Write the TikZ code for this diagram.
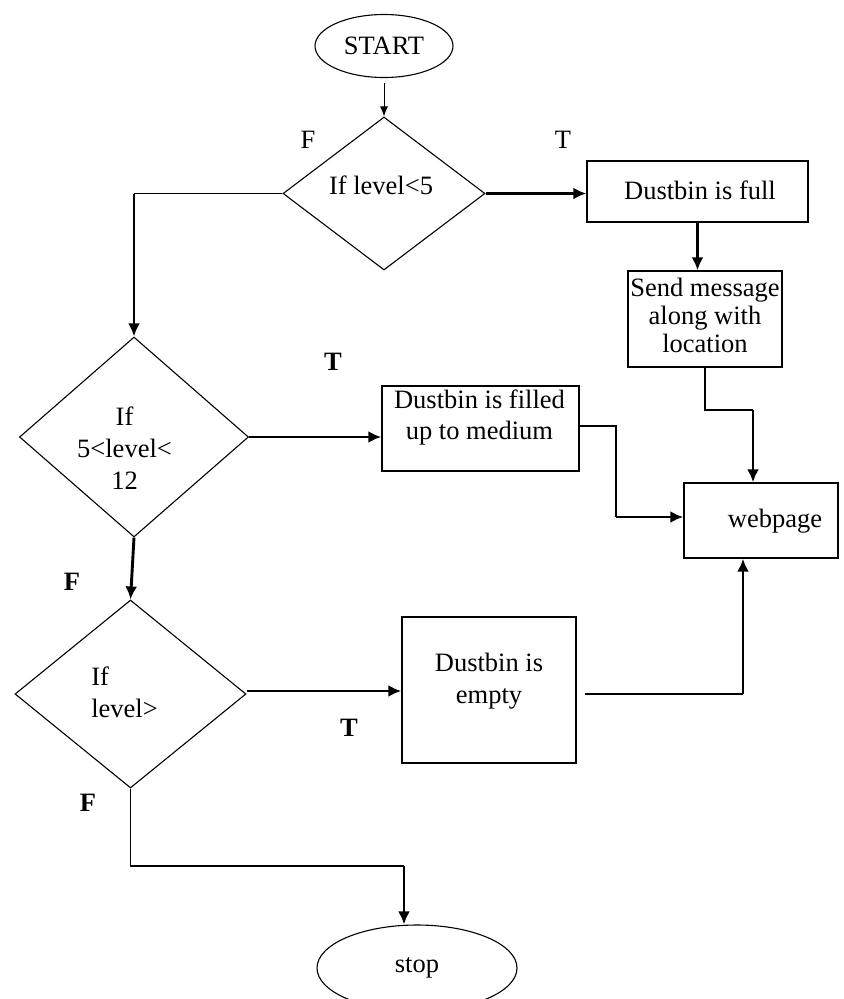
\documentclass[tikz,border=0pt]{standalone}
\usepackage{fontspec}
\setmainfont{Liberation Serif}
\usetikzlibrary{shapes.geometric,arrows.meta}
\tikzset{
  every node/.style={font=\fontsize{26.6}{32}\selectfont},
  txt/.style={align=center, inner sep=0pt},
  box/.style={draw, line width=1.4bp, rectangle, inner sep=0pt},
  dia/.style={draw, line width=1.1bp, diamond, inner sep=0pt},
  term/.style={draw, line width=1.1bp, ellipse, inner sep=0pt},
  conn/.style={line width=1.4bp},
  arr/.style={line width=2.9bp, -{Latex[length=13bp,width=12bp]}},
  smallarr/.style={line width=1bp, -{Latex[length=10bp,width=8bp]}},
  bl/.style={font=\fontsize{26.6}{32}\selectfont\bfseries, inner sep=0pt},
  rl/.style={inner sep=0pt}
}
\begin{document}
\begin{tikzpicture}[x=1bp,y=-1bp]
\useasboundingbox (0,0) rectangle (844,999);

% terminals
\node[term, minimum width=138bp, minimum height=63bp] (start) at (384,46) {START};
\node[term, minimum width=200bp, minimum height=86bp] (stop) at (417,968) {stop};

% decisions
\node[dia, minimum width=202bp, minimum height=153bp,
  label={[txt, xshift=-3bp, yshift=8.5bp]center:If level<5}] (d1) at (384,193.5) {};
\node[dia, minimum width=229bp, minimum height=200bp,
  label={[txt, xshift=-9.5bp, yshift=-11.5bp]center:If\\5<level<\\12}] (d2) at (134,437) {};
\node[dia, minimum width=231bp, minimum height=188bp,
  label={[txt, align=left, xshift=-6bp, yshift=2bp]center:If\\level>}] (d3) at (130.5,694) {};

% process boxes
\node[box, minimum width=221bp, minimum height=61bp,
  label={[txt, xshift=2.5bp, yshift=1.5bp]center:Dustbin is full}] (full) at (697.5,191.5) {};
\node[box, minimum width=154bp, minimum height=96bp,
  label={[txt, font=\fontsize{26.6}{28}\selectfont, yshift=3.5bp]center:Send message\\along with\\location}] (send) at (705,319) {};
\node[box, minimum width=197bp, minimum height=85bp,
  label={[txt, xshift=-1bp, yshift=11bp]center:Dustbin is filled\\up to medium}] (med) at (480.5,428.5) {};
\node[box, minimum width=174bp, minimum height=146bp,
  label={[txt, yshift=9bp]center:Dustbin is\\empty}] (empty) at (489,690) {};
\node[box, minimum width=154bp, minimum height=75bp,
  label={[txt, xshift=14bp, yshift=-1bp]center:webpage}] (web) at (761,520.5) {};

% branch labels
\node[rl] (lf1) at (308,140) {F};
\node[rl] (lt1) at (563,140) {T};
\node[bl] (lt2) at (333,362) {T};
\node[bl] (lf2) at (72,582) {F};
\node[bl] (lt3) at (349,728) {T};
\node[bl] (lf3) at (88,803) {F};

% helper coordinates
\coordinate (c1) at (753,410);
\coordinate (c2) at (616,517);
\coordinate (c3) at (743,694);
\coordinate (c4) at (404,866);

% connectors
\draw[smallarr] ([yshift=-5bp]start.south) -- (d1.north);
\draw[arr] (d1.east) -- (d1.east -| full.west);
\draw[conn] (d1.west) -- (d1.west -| d2.north);
\draw[arr] (d1.west -| d2.north) -- (d2.north);
\draw[arr] (full.south) -- (full.south |- send.north);
\draw[conn] (send.south) |- (c1);
\draw[arr] (c1) -- (c1 |- web.north);
\draw[arr] (d2.east) -- (d2.east -| med.west);
\draw[conn] ([yshift=2.5bp]med.east) -| (c2);
\draw[arr] (c2) -- (c2 -| web.west);
\draw[arr] (d2.south) -- (d3.north);
\draw[arr] ([yshift=3bp]d3.east) -- ([yshift=3bp]d3.east -| empty.west);
\draw[conn] ([xshift=8bp]empty.east |- c3) -- (c3);
\draw[arr] (c3) -- (c3 |- web.south);
\draw[conn] (d3.south) |- (c4);
\draw[arr] (c4) -- (c4 |- stop.north);
\end{tikzpicture}
\end{document}
